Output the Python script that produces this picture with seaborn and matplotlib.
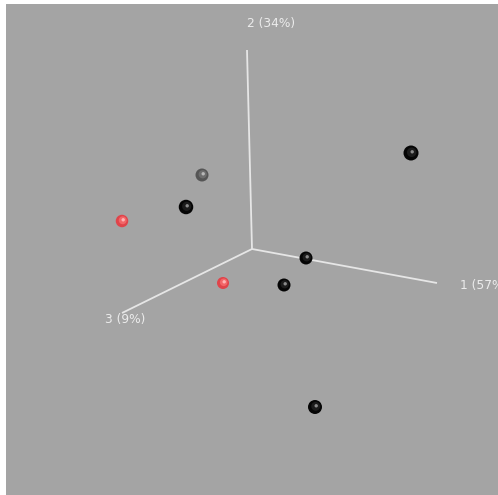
import numpy as np
import pandas as pd
import matplotlib
matplotlib.use("Agg")
import matplotlib.pyplot as plt
import seaborn as sns

# Projected ordination coordinates of the samples (screen plane)
sample_x = [411, 202, 186, 122, 306, 223, 284, 315]
sample_y = [153, 175, 207, 221, 258, 283, 285, 407]
sample_group = ["A", "C", "A", "B", "A", "B", "A", "A"]
sample_size = [15, 13, 14.5, 12.5, 13, 12, 13, 14]

# Axis ends of the three principal coordinates, from a shared origin
origin = (252, 249)
axis_ends_x = [437, 247, 122]
axis_ends_y = [283, 50, 313]
axis_labels = ["1 (57%)", "2 (34%)", "3 (9%)"]
label_x = [460, 271, 125]
label_y = [285, 23, 319]
label_ha = ["left", "center", "center"]

group_colors = {"A": "#050505", "B": "#e0444a", "C": "#555555"}
shade_cols = {"A": "#1c1c1c", "B": "#f26668", "C": "#6e6e6e"}
highlight_colors = {"A": "#8a8a8a", "B": "#ffb4b4", "C": "#b8b8b8"}

bg = "#a4a4a4"
line_col = "#e6e6e6"

sns.set_theme(style="white")
plt.rcParams["font.family"] = ["DejaVu Sans"]

fig = plt.figure(figsize=(4.98, 4.95), dpi=100, facecolor="white")
ax = fig.add_axes([6 / 498, 0, 492 / 498, 491 / 495])
ax.set_facecolor(bg)
ax.set_xlim(6, 498)
ax.set_ylim(495, 4)
ax.set_axis_off()
ax.add_patch(plt.Rectangle((6, 4), 492, 491, color=bg, zorder=0))

# Axis lines
for ex, ey in zip(axis_ends_x, axis_ends_y):
    ax.plot([origin[0], ex], [origin[1], ey], color=line_col, lw=1.3,
            solid_capstyle="butt", zorder=1)
for t, lx, ly, ha in zip(axis_labels, label_x, label_y, label_ha):
    ax.text(lx, ly, t, color="#ececec", fontsize=8.8, ha=ha, va="center",
            zorder=2, clip_on=False)

df = pd.DataFrame({"x": sample_x, "y": sample_y, "group": sample_group,
                   "d": sample_size})
df["s"] = (df["d"] * 72 / 100) ** 2

# Spheres: base disc, soft inner shading and a small specular highlight
sns.scatterplot(data=df, x="x", y="y", hue="group", palette=group_colors,
                size="s", sizes=(df["s"].min(), df["s"].max()),
                linewidth=0, legend=False, ax=ax, zorder=3)
shade = df.copy()
shade["s"] = df["s"] * 0.4
sns.scatterplot(data=shade, x=shade["x"] + 0.7, y=shade["y"] - 0.7,
                hue="group", palette=shade_cols, size="s",
                sizes=(shade["s"].min(), shade["s"].max()),
                linewidth=0, legend=False, ax=ax, zorder=4)
sns.scatterplot(x=df["x"] + 1.2, y=df["y"] - 1.2, hue=df["group"],
                palette=highlight_colors, s=6, linewidth=0, legend=False,
                ax=ax, zorder=5)

ax.set_xlabel("")
ax.set_ylabel("")
fig.savefig("out.png", dpi=100, facecolor="white")
